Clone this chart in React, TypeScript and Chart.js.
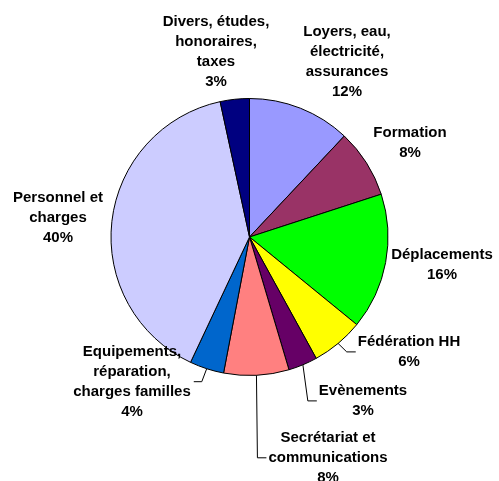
import React, { useEffect, useRef } from "react";
import { Chart, registerables } from "chart.js";

Chart.register(...registerables);

const categories = [
  "Loyers, eau,\nélectricité,\nassurances",
  "Formation",
  "Déplacements",
  "Fédération HH",
  "Evènements",
  "Secrétariat et\ncommunications",
  "Equipements,\nréparation,\ncharges familles",
  "Personnel et\ncharges",
  "Divers, études,\nhonoraires,\ntaxes",
];
const values = [12.0, 8.0, 15.9, 6.1, 3.4, 7.6, 4.0, 39.6, 3.4];
const colors = [
  "#9999FF",
  "#993366",
  "#00FF00",
  "#FFFF00",
  "#660066",
  "#FF8080",
  "#0066CC",
  "#CCCCFF",
  "#000080",
];
// label layout: centre x, first-line centre y, whether a leader line is drawn
const labelPos = [
  { x: 347, y: 32, leader: false },
  { x: 410, y: 133, leader: false },
  { x: 442, y: 255, leader: false },
  { x: 409, y: 342, leader: true },
  { x: 363, y: 391, leader: true },
  { x: 328, y: 438, leader: true },
  { x: 132, y: 352, leader: true },
  { x: 58, y: 198, leader: false },
  { x: 216, y: 22, leader: false },
];

const FONT = "bold 15px 'Liberation Sans', Arial, sans-serif";
const LINE_H = 19.8;

const labelPlugin = {
  id: "pieLabels",
  afterDraw(chart: any) {
    const ctx = chart.ctx;
    const meta = chart.getDatasetMeta(0);
    ctx.save();
    ctx.font = FONT;
    ctx.fillStyle = "#000";
    ctx.textAlign = "center";
    ctx.textBaseline = "middle";
    meta.data.forEach((arc: any, i: number) => {
      const lines = categories[i].split("\n").concat([`${Math.round(values[i])}%`]);
      const pos = labelPos[i];
      let maxW = 0;
      lines.forEach((l) => {
        maxW = Math.max(maxW, ctx.measureText(l).width);
      });
      lines.forEach((l, k) => {
        ctx.fillText(l, pos.x, pos.y + k * LINE_H);
      });
      if (pos.leader) {
        const mid = (arc.startAngle + arc.endAngle) / 2;
        const ex = arc.x + Math.cos(mid) * arc.outerRadius;
        const ey = arc.y + Math.sin(mid) * arc.outerRadius;
        const midY = pos.y + ((lines.length - 1) * LINE_H) / 2;
        const right = pos.x > arc.x + 0;
        const onRight = ex >= arc.x - 10 ? pos.x - maxW / 2 > ex : false;
        let bendX: number, endX: number;
        if (onRight) {
          const left = pos.x - maxW / 2;
          bendX = left - 11;
          endX = left - 2;
        } else {
          const r = pos.x + maxW / 2;
          bendX = r + 11;
          endX = r + 3;
        }
        ctx.strokeStyle = "#000";
        ctx.lineWidth = 1;
        ctx.beginPath();
        ctx.moveTo(ex, ey);
        ctx.lineTo(bendX, midY);
        ctx.lineTo(endX, midY);
        ctx.stroke();
      }
    });
    ctx.restore();
  },
};

export default function App() {
  const ref = useRef<HTMLCanvasElement>(null);
  useEffect(() => {
    document.body.style.margin = "0";
    const chart = new Chart(ref.current!, {
      type: "pie",
      data: {
        labels: categories,
        datasets: [
          {
            data: values,
            backgroundColor: colors,
            borderColor: "#000",
            borderWidth: 1,
          },
        ],
      },
      options: {
        responsive: false,
        animation: false,
        layout: { padding: { top: 98, bottom: 105, left: 110.5, right: 110.5 } },
        plugins: {
          legend: { display: false },
          tooltip: { enabled: false },
        },
      },
      plugins: [labelPlugin],
    });
    return () => chart.destroy();
  }, []);
  return (
    <div style={{ position: "absolute", left: 0, top: 0, width: 499, height: 481, background: "#fff" }}>
      <canvas ref={ref} width={499} height={481} />
    </div>
  );
}
